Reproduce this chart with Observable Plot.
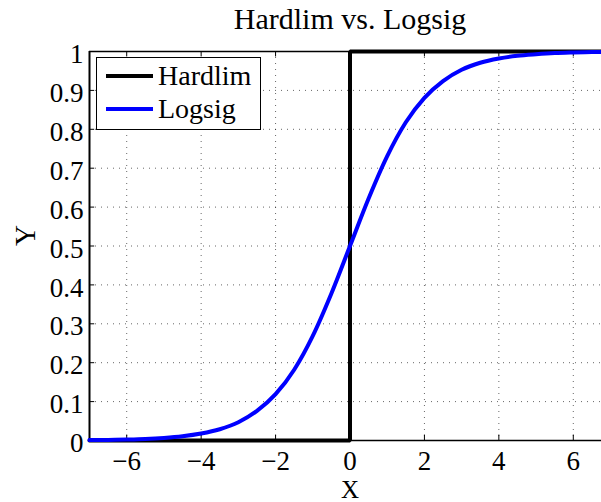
<!DOCTYPE html>
<html>
<head>
<meta charset="utf-8">
<script src="https://cdn.jsdelivr.net/npm/d3@7"></script>
<script src="https://cdn.jsdelivr.net/npm/@observablehq/plot@0.6"></script>
<style>
  body { margin: 0; background: #fff; }
  #wrap { position: relative; width: 601px; height: 502px; overflow: hidden; font-family: "Liberation Serif", "DejaVu Serif", serif; }
  #legend { position: absolute; left: 96px; top: 57px; width: 165px; height: 73px; border: 1.5px solid #000; background: #fff; box-sizing: border-box; }
  .item { position: absolute; left: 0; height: 32px; display: flex; align-items: center; font-size: 28px; line-height: 32px; color: #000; }
  .swatch { width: 47px; height: 4px; margin-left: 9px; margin-right: 5px; }
</style>
</head>
<body>
<div id="wrap"></div>
<script>
const title = "Hardlim vs. Logsig";
const xLabel = "X";
const yLabel = "Y";
const seriesNames = ["Hardlim", "Logsig"];
const seriesColors = ["#000000", "#0000ff"];

const xTicks = [-6, -4, -2, 0, 2, 4, 6];
const yTicks = [0, 0.1, 0.2, 0.3, 0.4, 0.5, 0.6, 0.7, 0.8, 0.9, 1];

const hardlimX = [-7, 0, 0, 7];
const hardlimY = [0, 0, 1, 1];

const logsigX = [-7, -6.5, -6, -5.5, -5, -4.5, -4, -3.5, -3, -2.5, -2, -1.5, -1, -0.5, 0, 0.5, 1, 1.5, 2, 2.5, 3, 3.5, 4, 4.5, 5, 5.5, 6, 6.5, 7];
const logsigY = [0.001, 0.0015, 0.0025, 0.004, 0.0067, 0.011, 0.018, 0.029, 0.047, 0.076, 0.119, 0.182, 0.269, 0.378, 0.5, 0.622, 0.731, 0.818, 0.881, 0.924, 0.953, 0.971, 0.982, 0.989, 0.993, 0.996, 0.9975, 0.9985, 0.999];

const hardlim = hardlimX.map((x, i) => ({x, y: hardlimY[i]}));
const logsig = logsigX.map((x, i) => ({x, y: logsigY[i]}));

const xMin = -7, xMax = 7;
const font = "Liberation Serif, DejaVu Serif, serif";

const chart = Plot.plot({
  width: 601,
  height: 502,
  marginLeft: 89,
  marginRight: -9,
  marginTop: 51,
  marginBottom: 62,
  style: {fontFamily: font, background: "#fff", overflow: "visible"},
  x: {type: "linear", domain: [xMin, xMax]},
  y: {type: "linear", domain: [0, 1]},
  marks: [
    // dotted grid
    Plot.ruleX(xTicks, {x: d => d, stroke: "#000", strokeOpacity: 0.6, strokeWidth: 1, strokeDasharray: "1,5"}),
    Plot.ruleY(yTicks, {y: d => d, stroke: "#000", strokeOpacity: 0.6, strokeWidth: 1, strokeDasharray: "1,5"}),
    // inward ticks
    Plot.ruleX(xTicks, {x: d => d, y1: 0, y2: 0.014, stroke: "#000"}),
    Plot.ruleX(xTicks, {x: d => d, y1: 1, y2: 0.986, stroke: "#000"}),
    Plot.ruleY(yTicks, {y: d => d, x1: xMin, x2: xMin + 0.14, stroke: "#000"}),
    // axis lines
    Plot.ruleX([xMin], {x: d => d, stroke: "#000", strokeWidth: 2}),
    Plot.ruleY([0], {y: d => d, stroke: "#000", strokeWidth: 1.5}),
    Plot.ruleY([1], {y: d => d, stroke: "#000", strokeWidth: 1.5}),
    // data
    Plot.line(hardlim, {x: "x", y: "y", stroke: seriesColors[0], strokeWidth: 4, strokeLinejoin: "miter"}),
    Plot.line(logsig, {x: "x", y: "y", stroke: seriesColors[1], strokeWidth: 4, curve: "monotone-x"}),
    // axes
    Plot.axisX(xTicks, {tickSize: 0, tickPadding: 10, fontSize: 27, fill: "#000", label: null, tickFormat: d => d < 0 ? "\u2212" + Math.abs(d) : String(d)}),
    Plot.axisY(yTicks, {tickSize: 0, tickPadding: 6, dy: 3, fontSize: 27, fill: "#000", label: null, tickFormat: d => String(+d.toFixed(1))}),
    // labels
    Plot.text([title], {frameAnchor: "top", lineAnchor: "middle", x: () => 0, text: d => d, dy: -32, fontSize: 30, fill: "#000"}),
    Plot.text([xLabel], {frameAnchor: "bottom", lineAnchor: "middle", x: () => 0, text: d => d, dy: 49, fontSize: 25, fill: "#000"}),
    Plot.text([yLabel], {frameAnchor: "left", lineAnchor: "middle", y: () => 0.5, text: d => d, dx: -64, rotate: -90, fontSize: 29, fill: "#000"})
  ]
});

const wrap = document.getElementById("wrap");
wrap.appendChild(chart);

const legend = document.createElement("div");
legend.id = "legend";
seriesNames.forEach((name, i) => {
  const item = document.createElement("div");
  item.className = "item";
  item.style.top = (i === 0 ? 2 : 35) + "px";
  const sw = document.createElement("div");
  sw.className = "swatch";
  sw.style.background = seriesColors[i];
  const label = document.createElement("span");
  label.textContent = name;
  item.appendChild(sw);
  item.appendChild(label);
  legend.appendChild(item);
});
wrap.appendChild(legend);
</script>
</body>
</html>
